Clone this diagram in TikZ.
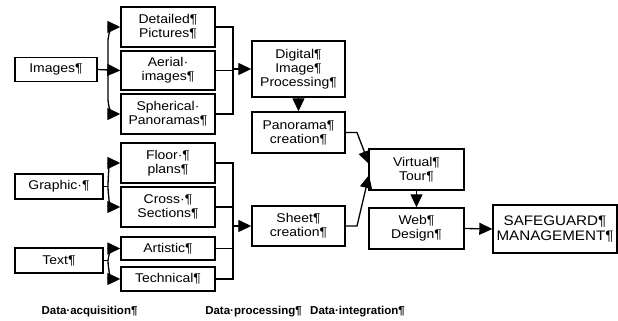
\documentclass[tikz,border=0pt]{standalone}
\usepackage{fontspec}
\setmainfont{Liberation Sans}[FakeStretch=1.1]
\newfontfamily\labfont{Liberation Sans}
\usetikzlibrary{arrows.meta}
\begin{document}
\begin{tikzpicture}[x=1pt,y=-1pt,
  box/.style={draw,line width=1.4pt,inner sep=0pt,align=center,font=\fontsize{12.7}{14}\selectfont},
  conn/.style={line width=1.3pt},
  arr/.style={conn,-{Triangle[length=13pt,width=12pt]}},
  lab/.style={font=\labfont\fontsize{11.5}{14}\selectfont\bfseries}]
\useasboundingbox (0,0) rectangle (618,321);
\node[box,minimum width=82,minimum height=24] (img) at (56,69.5) {Images¶};
\node[box,minimum width=94,minimum height=40] (det) at (168,27) {Detailed¶\\Pictures¶};
\node[box,minimum width=94,minimum height=39] (aer) at (168,70.5) {Aerial·\\images¶};
\node[box,minimum width=94,minimum height=40] (sph) at (168,114) {Spherical·\\Panoramas¶};
\node[box,minimum width=94,minimum height=40] (flo) at (168,163) {Floor·¶\\plans¶};
\node[box,minimum width=94,minimum height=40] (cro) at (168,207) {Cross·¶\\Sections¶};
\node[box,minimum width=94,minimum height=23] (art) at (168,248.5) {Artistic¶};
\node[box,minimum width=94,minimum height=24] (tec) at (168,279) {Technical¶};
\node[box,minimum width=88,minimum height=25] (gra) at (59,186.5) {Graphic·¶};
\node[box,minimum width=88,minimum height=25] (txt) at (59,260.5) {Text¶};
\node[box,minimum width=93,minimum height=56] (dig) at (298.5,69) {Digital¶\\Image¶\\Processing¶};
\node[box,minimum width=93,minimum height=41] (pan) at (298.5,132.5) {Panorama¶\\creation¶};
\node[box,minimum width=93,minimum height=40] (she) at (298.5,226) {Sheet¶\\creation¶};
\node[box,minimum width=95,minimum height=41] (vir) at (416.5,169.5) {Virtual¶\\Tour¶};
\node[box,minimum width=95,minimum height=41] (web) at (416.5,228.5) {Web¶\\Design¶};
\node[box,minimum width=124,minimum height=48,font=\fontsize{13.8}{14.5}\selectfont] (saf) at (555,229) {SAFEGUARD¶\\MANAGEMENT¶};
\node[lab] (l1) at (89.5,312) {Data·acquisition¶};
\node[lab] (l2) at (253.5,312) {Data·processing¶};
\node[lab] (l3) at (357.5,312) {Data·integration¶};
% left branches
\coordinate (bi) at (108,69.5);
\draw[conn] (img.east) -- (bi);
\draw[arr] (img.east) -- (aer.west);
\draw[arr] (bi) -- (108,40) to[out=90,in=180] (det.west);
\draw[arr] (bi) -- (108,100) to[out=-90,in=180] (sph.west);
\coordinate (bg) at (108,186.5);
\draw[conn] (gra.east) -- (bg);
\draw[arr] (bg) to[out=90,in=180] (flo.west);
\draw[arr] (bg) to[out=-90,in=180] (cro.west);
\coordinate (bt) at (108,260.5);
\draw[conn] (txt.east) -- (bt);
\draw[arr] (bt) to[out=90,in=180] (art.west);
\draw[arr] (bt) to[out=-90,in=180] (tec.west);
% right brackets
\draw[conn] (det.east) -| (233,69) (aer.east) -- (233,70.5) (sph.east) -| (233,69);
\draw[arr] (233,69) -- (dig.west);
\draw[conn] (flo.east) -| (233,226) (cro.east) -- (233,207) (art.east) -- (233,248.5) (tec.east) -| (233,226);
\draw[arr] (233,226) -- (she.west);
% processing to integration
\draw[arr] (dig.south) -- (pan.north);
\draw[arr] (pan.east) -- (357,132.5) -- (369,164);
\draw[arr] (she.east) -- (357,226) -- (369,175);
\draw[arr] (vir.south) -- (web.north);
\draw[arr] (web.east) -- (saf.west);
\end{tikzpicture}
\end{document}
